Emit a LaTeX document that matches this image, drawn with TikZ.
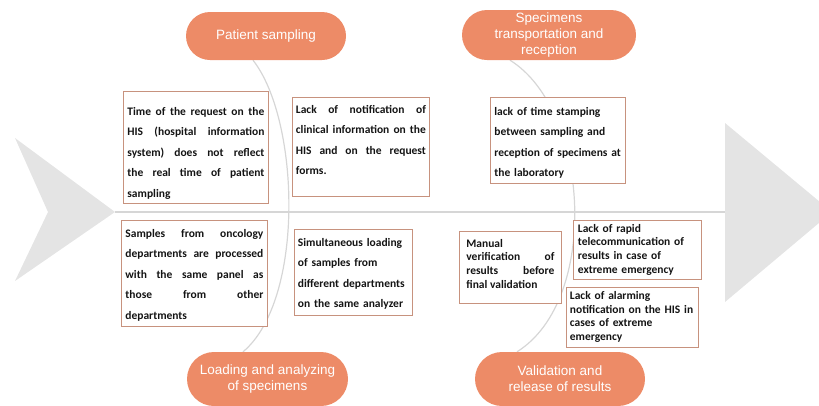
\documentclass[tikz,border=0pt]{standalone}
\usepackage{fontspec}
\setmainfont{Carlito}
\newfontfamily\pillfont{Liberation Sans}
\usetikzlibrary{shapes.misc, backgrounds, calc}
\definecolor{stagec}{RGB}{237,139,103}
\definecolor{edgec}{RGB}{199,146,126}
\definecolor{fishc}{RGB}{228,228,228}
\definecolor{bonec}{RGB}{214,214,214}
\definecolor{inkc}{RGB}{20,20,20}
\tikzset{
  stage/.style={
    rounded rectangle, fill=stagec, draw=none, text=white,
    font=\pillfont\fontsize{13.5}{16}\selectfont, align=center,
    minimum height=50pt, inner sep=2pt
  },
  cause/.style={
    rectangle, draw=edgec, fill=white, line width=0.8pt, anchor=north west,
    inner ysep=0pt, inner xsep=4pt, text=inkc,
    font=\fontsize{11.5}{20.5}\selectfont\bfseries
  },
  tight/.style={font=\fontsize{11.5}{13.7}\selectfont\bfseries},
  spine/.style={draw=bonec, line width=1.8pt},
  bone/.style={draw=bonec, line width=1.2pt},
}
% room above the first line and below the last one
\newcommand{\cue}[3]{\rule{0pt}{#1pt}#3\rule[-#2pt]{0pt}{#2pt}}

\begin{document}
\begin{tikzpicture}[x=1pt, y=-1pt]

  \clip (0,0) rectangle (819,405);

  % tail and head of the fish
  \fill[fishc] (15,138) -- (115,212) -- (15,281) -- (48,212) -- cycle;
  \fill[fishc] (725,123) -- (832,212) -- (725,302) -- cycle;
  \coordinate (tail) at (115,212);
  \coordinate (head) at (725,212);

  % the four stages
  \node[stage, minimum width=164pt, minimum height=48pt] (sampling) at (266,36) {Patient sampling};
  \node[stage, minimum width=178pt] (transport) at (549,35)
    {Specimens\\transportation and\\reception};
  \node[stage, minimum width=165pt, minimum height=54pt] (loading) at (267.5,379)
    {Loading and analyzing\\of specimens};
  \node[stage, minimum width=174pt, minimum height=54pt] (release) at (560,379)
    {Validation and\\release of results};

  % causes above the spine
  \node[cause, text width=137pt, align=justify] (clock) at (123,91)
    {\cue{24}{6}{Time of the request on the\linebreak HIS (hospital information\linebreak
     system) does not reflect\linebreak the real time of patient\linebreak sampling}};
  \node[cause, inner xsep=3.5pt, text width=130pt, align=justify] (clinic) at (292,97)
    {\cue{16}{21}{Lack of notification of\linebreak clinical information on the\linebreak
     HIS and on the request\linebreak forms.}};
  \node[cause, text width=127pt, align=left] (stamp) at (490,97)
    {\cue{18}{6.5}{lack of time stamping\\between sampling and\\reception of specimens at\\the laboratory}};

  % causes below the spine
  \node[cause, text width=138pt, align=justify] (panel) at (121,220)
    {\cue{17}{7}{Samples from oncology\linebreak departments are processed\linebreak
     with the same panel as\linebreak those from other\linebreak departments}};
  \node[cause, inner xsep=3.5pt, text width=111pt, align=left] (analyzer) at (294,229)
    {\cue{17}{7}{Simultaneous loading\\of samples from\\different departments\\on the same analyzer}};
  \node[cause, tight, inner xsep=7pt, text width=88pt, align=justify] (manual) at (459,231)
    {\cue{15.7}{14.7}{Manual\\verification of\linebreak results before\linebreak final validation}};
  \node[cause, tight, inner xsep=4.5pt, text width=119pt, align=left] (phone) at (573,220)
    {\cue{11.7}{6.3}{Lack of rapid\\telecommunication of\\results in case of\\extreme emergency}};
  \node[cause, tight, inner xsep=3.5pt, text width=125pt, align=left] (alarm) at (566,287)
    {\cue{12}{7}{Lack of alarming\\notification on the HIS in\\cases of extreme\\emergency}};

  \begin{scope}[on background layer]
    \draw[spine] (tail) -- (head);
    \draw[bone] ($(sampling.south)+(-13,0)$) .. controls (300,120) and (305,300) .. ($(loading.north)+(-24.5,0)$);
    \draw[bone] ($(transport.south)+(-39,0)$) .. controls (590,110) and (600,300) .. ($(release.north)+(-43,0)$);
  \end{scope}

\end{tikzpicture}
\end{document}
